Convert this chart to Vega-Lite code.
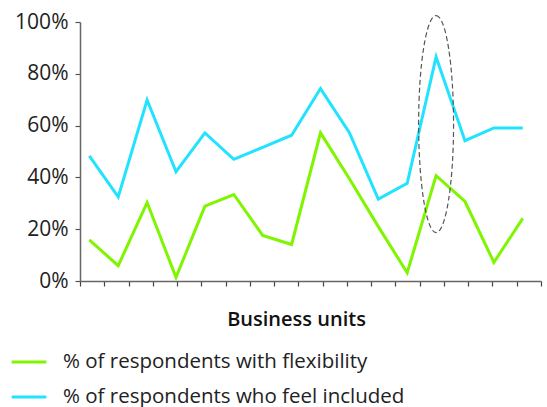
{
  "$schema": "https://vega.github.io/schema/vega-lite/v6.json",
  "width": 461,
  "height": 259,
  "autosize": {"type": "none"},
  "padding": {"left": 80, "top": 22, "right": 6, "bottom": 126},
  "background": "white",
  "config": {"view": {"stroke": null}, "font": "Open Sans"},
  "datasets": {
    "lines": [
      {"unit": 1, "series": "% of respondents with flexibility", "value": 15.9},
      {"unit": 2, "series": "% of respondents with flexibility", "value": 5.9},
      {"unit": 3, "series": "% of respondents with flexibility", "value": 30.3},
      {"unit": 4, "series": "% of respondents with flexibility", "value": 1.4},
      {"unit": 5, "series": "% of respondents with flexibility", "value": 28.9},
      {"unit": 6, "series": "% of respondents with flexibility", "value": 33.4},
      {"unit": 7, "series": "% of respondents with flexibility", "value": 17.6},
      {"unit": 8, "series": "% of respondents with flexibility", "value": 14.1},
      {"unit": 9, "series": "% of respondents with flexibility", "value": 57.2},
      {"unit": 10, "series": "% of respondents with flexibility", "value": 39.5},
      {"unit": 11, "series": "% of respondents with flexibility", "value": 21.0},
      {"unit": 12, "series": "% of respondents with flexibility", "value": 3.2},
      {"unit": 13, "series": "% of respondents with flexibility", "value": 40.7},
      {"unit": 14, "series": "% of respondents with flexibility", "value": 30.7},
      {"unit": 15, "series": "% of respondents with flexibility", "value": 7.2},
      {"unit": 16, "series": "% of respondents with flexibility", "value": 24.2},
      {"unit": 1, "series": "% of respondents who feel included", "value": 48.3},
      {"unit": 2, "series": "% of respondents who feel included", "value": 32.5},
      {"unit": 3, "series": "% of respondents who feel included", "value": 69.9},
      {"unit": 4, "series": "% of respondents who feel included", "value": 42.2},
      {"unit": 5, "series": "% of respondents who feel included", "value": 57.2},
      {"unit": 6, "series": "% of respondents who feel included", "value": 47.0},
      {"unit": 7, "series": "% of respondents who feel included", "value": 51.6},
      {"unit": 8, "series": "% of respondents who feel included", "value": 56.3},
      {"unit": 9, "series": "% of respondents who feel included", "value": 74.3},
      {"unit": 10, "series": "% of respondents who feel included", "value": 57.3},
      {"unit": 11, "series": "% of respondents who feel included", "value": 31.6},
      {"unit": 12, "series": "% of respondents who feel included", "value": 37.7},
      {"unit": 13, "series": "% of respondents who feel included", "value": 86.5},
      {"unit": 14, "series": "% of respondents who feel included", "value": 54.2},
      {"unit": 15, "series": "% of respondents who feel included", "value": 59.1},
      {"unit": 16, "series": "% of respondents who feel included", "value": 59.1}
    ],
    "highlight": [
      {"unit": 13, "value": 60.6}
    ]
  },
  "layer": [
    {
      "data": {"name": "lines"},
      "mark": {"type": "line", "strokeWidth": 3, "clip": false},
      "encoding": {
        "x": {
          "field": "unit",
          "type": "quantitative",
          "scale": {"domain": [0.678, 16.63], "nice": false, "zero": false},
          "axis": {
            "values": [0.678, 1.517, 2.357, 3.196, 4.036, 4.875, 5.714, 6.554, 7.393, 8.233, 9.072, 9.911, 10.751, 11.59, 12.43, 13.269, 14.108, 14.948, 15.787, 16.627],
            "tickCount": 40,
            "labels": false,
            "grid": false,
            "domainColor": "#666666",
            "domainWidth": 1.5,
            "tickColor": "#444444",
            "tickWidth": 1.2,
            "tickSize": 5,
            "tickRound": true,
            "title": "Business units",
            "titleFont": "Open Sans",
            "titleFontSize": 20,
            "titleFontWeight": 600,
            "titleColor": "#111111",
            "titleAnchor": null,
            "titleAlign": "center",
            "titleX": 216,
            "titleY": 44,
            "titleBaseline": "alphabetic"
          }
        },
        "y": {
          "field": "value",
          "type": "quantitative",
          "scale": {"domain": [0, 100], "nice": false},
          "axis": {
            "values": [0, 20, 40, 60, 80, 100],
            "labelExpr": "datum.value + '%'",
            "grid": false,
            "title": null,
            "labelFont": "Open Sans",
            "labelFontSize": 21,
            "labelColor": "#222222",
            "labelPadding": 7,
            "domainColor": "#666666",
            "domainWidth": 1.5,
            "tickColor": "#555555",
            "tickWidth": 1.2,
            "tickSize": 5
          }
        },
        "color": {
          "field": "series",
          "type": "nominal",
          "scale": {
            "domain": ["% of respondents with flexibility", "% of respondents who feel included"],
            "range": ["#7FF500", "#22E3FF"]
          },
          "legend": {
            "title": null,
            "orient": "none",
            "legendX": -70,
            "legendY": 321,
            "symbolType": "stroke",
            "symbolSize": 1200,
            "symbolStrokeWidth": 3,
            "labelFont": "Open Sans",
            "labelFontSize": 20.5,
            "labelColor": "#222222",
            "labelOffset": 15,
            "labelLimit": 500,
            "rowPadding": 5
          }
        }
      }
    },
    {
      "data": {"name": "highlight"},
      "mark": {
        "type": "point",
        "shape": "M0,-1 A0.161,1 0 1,1 0,1 A0.161,1 0 1,1 0,-1 Z",
        "size": 47089,
        "filled": false,
        "stroke": "#555555",
        "strokeWidth": 1.2,
        "strokeDash": [5, 3],
        "opacity": 1,
        "clip": false
      },
      "encoding": {
        "x": {"field": "unit", "type": "quantitative"},
        "y": {"field": "value", "type": "quantitative"}
      }
    }
  ]
}
